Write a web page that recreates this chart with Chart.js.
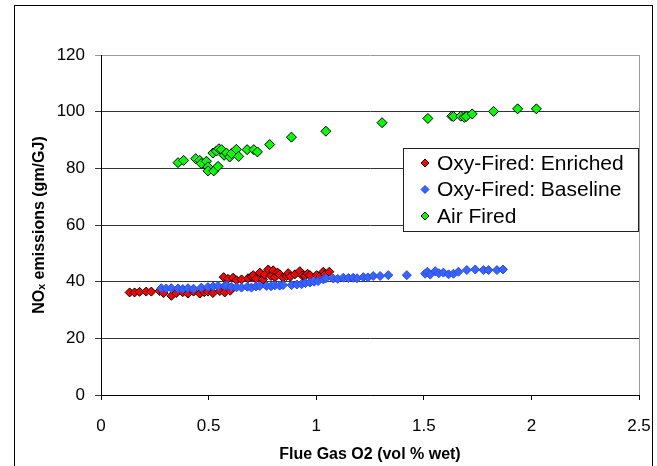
<!DOCTYPE html>
<html>
<head>
<meta charset="utf-8">
<script src="https://cdn.jsdelivr.net/npm/chart.js@4.4.1/dist/chart.umd.min.js"></script>
<style>
  html, body { margin: 0; padding: 0; background: #fff; }
  #wrap { position: relative; width: 657px; height: 466px; }
</style>
</head>
<body>
<div id="wrap"><canvas id="chart"></canvas></div>
<script>
// Oxy-Fired: Enriched
const enrichedO2 = [0.133, 0.156, 0.179, 0.21, 0.234, 0.272, 0.29, 0.327, 0.35, 0.38, 0.404, 0.43, 0.459, 0.48, 0.497, 0.52, 0.552, 0.575, 0.6,
  0.57, 0.59, 0.614, 0.63, 0.653, 0.683, 0.7, 0.707, 0.72, 0.738, 0.753, 0.76, 0.777, 0.79, 0.8, 0.808, 0.82, 0.831, 0.846, 0.862, 0.87, 0.88,
  0.901, 0.924, 0.935, 0.947, 0.96, 0.971, 1.002, 1.02, 1.033, 1.041, 1.061];
const enrichedNox = [36.2, 36.2, 36.4, 36.5, 36.5, 36.7, 36.0, 35.0, 36.0, 36.3, 35.8, 36.5, 35.8, 36.3, 36.5, 36.0, 36.7, 36.2, 36.8,
  41.6, 41.0, 41.4, 40.5, 40.8, 41.2, 41.8, 42.3, 41.0, 43.2, 40.8, 42.5, 44.3, 42.0, 44.0, 41.6, 43.2, 42.6, 41.4, 42.0, 43.0, 41.8,
  42.6, 43.7, 42.2, 42.0, 42.8, 42.3, 42.3, 42.0, 43.5, 42.6, 43.5];

// Oxy-Fired: Baseline
const baselineO2 = [0.28, 0.303, 0.327, 0.358, 0.38, 0.404, 0.43, 0.466, 0.497, 0.521, 0.544, 0.575, 0.583, 0.606, 0.63, 0.653, 0.68, 0.699,
  0.72, 0.738, 0.769, 0.79, 0.808, 0.83, 0.846, 0.886, 0.91, 0.932, 0.95, 0.971, 0.99, 1.009, 1.033, 1.045, 1.079, 1.1, 1.126, 1.15, 1.172,
  1.19, 1.219, 1.24, 1.265, 1.297, 1.335, 1.421, 1.506, 1.517, 1.53, 1.553, 1.57, 1.591, 1.615, 1.638, 1.661, 1.7, 1.739, 1.777, 1.801,
  1.84, 1.868];
const baselineNox = [37.7, 37.6, 37.7, 37.6, 37.4, 37.7, 37.5, 37.9, 38.1, 38.3, 38.5, 38.5, 38.7, 38.1, 38.0, 37.9, 38.2, 37.9,
  38.3, 38.5, 38.5, 38.4, 38.7, 38.6, 38.8, 38.8, 39.0, 39.1, 39.5, 39.7, 40.0, 40.2, 40.8, 41.2, 41.1, 41.0, 41.4, 41.3, 41.4,
  41.2, 41.6, 41.5, 42.0, 42.0, 42.3, 42.3, 42.8, 43.5, 42.5, 43.7, 43.0, 43.2, 42.6, 42.8, 43.5, 44.1, 44.3, 44.1, 44.1,
  44.1, 44.3];

// Air Fired
const airO2 = [0.358, 0.384, 0.44, 0.459, 0.466, 0.49, 0.497, 0.497, 0.524, 0.544, 0.52, 0.536, 0.548, 0.56, 0.572, 0.583, 0.598, 0.606,
  0.629, 0.64, 0.679, 0.71, 0.727, 0.784, 0.885, 1.045, 1.306, 1.519, 1.63, 1.638, 1.672, 1.688, 1.697, 1.725, 1.824, 1.936, 2.023];
const airNox = [82.0, 82.8, 83.4, 82.8, 81.7, 82.5, 80.5, 79.1, 79.1, 80.7, 85.4, 86.1, 86.9, 86.6, 84.6, 85.4, 84.0, 85.2,
  86.7, 84.2, 86.6, 86.6, 85.8, 88.4, 91.0, 93.1, 96.1, 97.6, 98.4, 98.3, 98.4, 98.0, 98.3, 99.2, 100.1, 101.0, 101.0];

const xTicks = [0, 0.5, 1, 1.5, 2, 2.5];
const yTicks = [0, 20, 40, 60, 80, 100, 120];

const toPoints = (xs, ys) => xs.map((x, i) => ({ x: x, y: ys[i] }));

const FONT = "'Liberation Sans', Arial, sans-serif";

const frameAndLegend = {
  id: "frameAndLegend",
  afterDraw(chart) {
    const ctx = chart.ctx;
    const a = chart.chartArea;
    ctx.save();
    // outer frame
    ctx.strokeStyle = "#000";
    ctx.lineWidth = 1;
    ctx.strokeRect(14.5, 5.5, 638, 480);
    // plot area right edge
    ctx.strokeStyle = "#999";
    ctx.beginPath();
    ctx.moveTo(Math.round(a.right) + 0.5, a.top);
    ctx.lineTo(Math.round(a.right) + 0.5, a.bottom);
    ctx.stroke();
    // legend box
    const lx = 403.5, ly = 148.5, lw = 235, lh = 83;
    ctx.fillStyle = "#fff";
    ctx.fillRect(lx, ly, lw, lh);
    ctx.strokeStyle = "#222";
    ctx.strokeRect(lx, ly, lw, lh);
    ctx.font = "21px " + FONT;
    ctx.textBaseline = "middle";
    chart.data.datasets.forEach((ds, i) => {
      const cy = 163 + i * 26.5;
      ctx.fillStyle = ds.backgroundColor;
      ctx.strokeStyle = ds.borderColor;
      ctx.lineWidth = 1;
      Chart.helpers.drawPoint(ctx, { pointStyle: "rectRot", radius: 4, borderWidth: 1 }, 425, cy);
      ctx.fillStyle = "#000";
      ctx.fillText(ds.label, 437, cy + 1);
    });
    ctx.restore();
  },
};

const chartData = {
  datasets: [
    {
      label: "Oxy-Fired: Enriched",
      data: toPoints(enrichedO2, enrichedNox),
      backgroundColor: "#ff0000",
      borderColor: "#000000",
      order: 2,
    },
    {
      label: "Oxy-Fired: Baseline",
      data: toPoints(baselineO2, baselineNox),
      backgroundColor: "#3366ff",
      borderColor: "#3344ee",
      order: 1,
    },
    {
      label: "Air Fired",
      data: toPoints(airO2, airNox),
      backgroundColor: "#00ff00",
      borderColor: "#000000",
      pointRadius: 5,
      order: 0,
    },
  ],
};

const chartConfig = {
  type: "scatter",
  data: chartData,
  options: {
    responsive: true,
    maintainAspectRatio: false,
    animation: false,
    layout: {
      padding: { top: 55, right: 18, left: 0, bottom: 0 },
    },
    elements: {
      point: {
        pointStyle: "rectRot",
        radius: 4.5,
        borderWidth: 1,
      },
    },
    plugins: {
      legend: { display: false },
      tooltip: { enabled: false },
    },
    scales: {
      x: {
        type: "linear",
        min: 0,
        max: 2.5,
        afterBuildTicks: (scale) => {
          scale.ticks = xTicks.map((v) => ({ value: v }));
        },
        afterFit: (scale) => {
          scale.height = 71;
          // tick padding would otherwise widen the side padding and shrink the plot
          scale.paddingLeft = 12;
          scale.paddingRight = 12;
        },
        ticks: {
          color: "#000",
          padding: 16,
          maxRotation: 0,
          font: { family: FONT, size: 17 },
          callback: (value) => String(value),
        },
        grid: {
          drawOnChartArea: false,
          drawTicks: true,
          tickLength: 5,
          color: "#000",
        },
        border: { color: "#000", width: 1 },
        title: {
          display: true,
          text: "Flue Gas O2 (vol % wet)",
          color: "#000",
          font: { family: FONT, size: 16, weight: "bold" },
          padding: { top: 0, bottom: 2 },
        },
      },
      y: {
        type: "linear",
        min: 0,
        max: 120,
        afterBuildTicks: (scale) => {
          scale.ticks = yTicks.map((v) => ({ value: v }));
        },
        afterFit: (scale) => {
          scale.width = 101;
        },
        ticks: {
          color: "#000",
          padding: 10,
          font: { family: FONT, size: 17 },
          callback: (value) => String(value),
        },
        grid: {
          color: (ctx) => (ctx.tick && ctx.tick.value === 120 ? "#999" : "#333"),
          tickLength: 6,
        },
        border: { color: "#000", width: 1 },
        title: {
          display: true,
          text: "NOₓ emissions (gm/GJ)",
          color: "#000",
          font: { family: FONT, size: 16, weight: "bold" },
          padding: { top: 30, bottom: 0 },
        },
      },
    },
  },
  plugins: [frameAndLegend],
};

const chart = new Chart(document.getElementById("chart"), chartConfig);
</script>
</body>
</html>
